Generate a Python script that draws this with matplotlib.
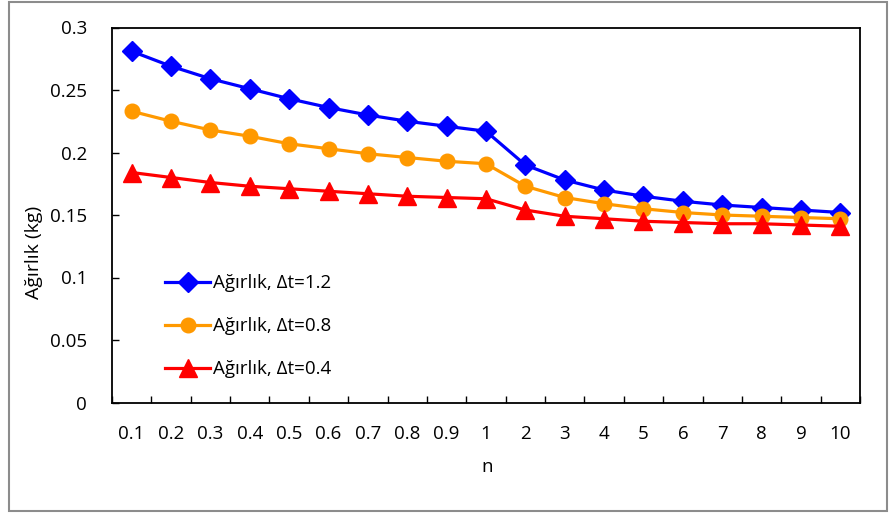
import numpy as np
import matplotlib.pyplot as plt
from matplotlib.patches import Rectangle

plt.rcParams['font.family'] = ['Open Sans', 'DejaVu Sans']

n_labels = ["0.1", "0.2", "0.3", "0.4", "0.5", "0.6", "0.7", "0.8", "0.9", "1",
            "2", "3", "4", "5", "6", "7", "8", "9", "10"]

w_12 = [0.281, 0.269, 0.259, 0.251, 0.243, 0.236, 0.230, 0.225, 0.221, 0.217,
        0.190, 0.178, 0.170, 0.165, 0.161, 0.158, 0.156, 0.154, 0.152]
w_08 = [0.233, 0.225, 0.218, 0.213, 0.207, 0.203, 0.199, 0.196, 0.193, 0.191,
        0.173, 0.164, 0.159, 0.155, 0.152, 0.150, 0.149, 0.148, 0.147]
w_04 = [0.184, 0.180, 0.176, 0.173, 0.171, 0.169, 0.167, 0.165, 0.164, 0.163,
        0.154, 0.149, 0.147, 0.145, 0.144, 0.143, 0.143, 0.142, 0.141]

fig = plt.figure(figsize=(8.89, 5.13), dpi=100)
W, H = 889, 513
ax = fig.add_axes([112 / W, 1 - 402.5 / H, 748 / W, 375 / H])

# outer chart border
fig.patches.append(Rectangle((9 / W, 2 / H), 878 / W, 509 / H, transform=fig.transFigure,
                             fill=False, edgecolor="#8c8c8c", linewidth=1.5))

x = np.arange(len(n_labels))
ax.plot(x, w_12, color="#0000ff", lw=2.3, marker="D", ms=10, label="Ağırlık, Δt=1.2")
ax.plot(x, w_08, color="#ff9900", lw=2.3, marker="o", ms=10.5, label="Ağırlık, Δt=0.8")
ax.plot(x, w_04, color="#ff0000", lw=2.3, marker="^", ms=13, label="Ağırlık, Δt=0.4")

ax.set_xlim(-0.5, len(n_labels) - 0.5)
ax.set_ylim(0, 0.3)
ax.set_yticks([0, 0.05, 0.1, 0.15, 0.2, 0.25, 0.3])
ax.set_yticklabels(["0", "0.05", "0.1", "0.15", "0.2", "0.25", "0.3"])
ax.set_xticks(x)
ax.set_xticklabels(n_labels)
ax.set_xticks(np.arange(-0.5, len(n_labels)), minor=True)
ax.tick_params(axis="x", which="major", length=0, pad=16, labelsize=13.5)
ax.tick_params(axis="x", which="minor", length=5, direction="in", width=1)
ax.tick_params(axis="y", length=5, direction="in", width=1, pad=18, labelsize=13.5)
for s in ax.spines.values():
    s.set_linewidth(1.3)

fig.text(34 / W, 1 - 252 / H, "Ağırlık (kg)", rotation=90, ha="center", va="center", fontsize=14)
fig.text(487 / W, 1 - 467 / H, "n", ha="center", va="center", fontsize=13.5)

ax.legend(loc="upper left", bbox_to_anchor=(0.061, 0.362), frameon=False, fontsize=13.5,
          handlelength=2.4, labelspacing=1.33, handletextpad=0.15, borderaxespad=0)

fig.savefig("out.png", dpi=100)
